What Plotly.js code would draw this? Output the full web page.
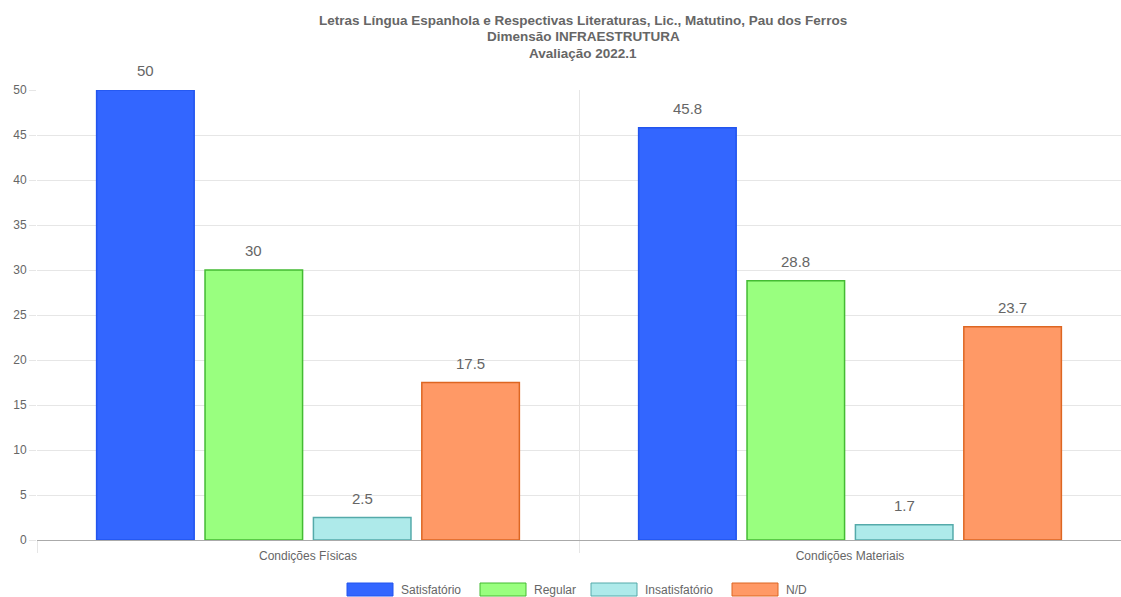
<!DOCTYPE html>
<html>
<head>
<meta charset="utf-8">
<script src="https://cdn.plot.ly/plotly-3.0.1.min.js"></script>
<style>html,body{margin:0;padding:0;background:#fff;}#chart{width:1121px;height:597px;}</style>
</head>
<body>
<div id="chart"></div>
<script>
// ---- data ----
const categories = ["Condições Físicas", "Condições Materiais"];
const seriesNames = ["Satisfatório", "Regular", "Insatisfatório", "N/D"];
const satisfatorio = [50, 45.8];
const regular = [30, 28.8];
const insatisfatorio = [2.5, 1.7];
const nd = [17.5, 23.7];
const yTicks = [0, 5, 10, 15, 20, 25, 30, 35, 40, 45, 50];
const titleLines = ["Letras Língua Espanhola e Respectivas Literaturas, Lic., Matutino, Pau dos Ferros", "Dimensão INFRAESTRUTURA", "Avaliação 2022.1"];

// ---- styles ----
const fills = ["#3366ff", "#99ff7f", "#aeeaea", "#ff9966"];
const borders = ["#2255ee", "#44bb33", "#55aaaa", "#dd6622"];
const FONT = "Liberation Sans, Arial, Helvetica, sans-serif";
const W = 1121, H = 597;
const M = {l: 37, r: 0, t: 90, b: 57};
const plotW = W - M.l - M.r, plotH = H - M.t - M.b;
const BARGAP = 0.2, GROUPGAP = 0.1;
const px2x = px => (px - M.l) / plotW;
const px2y = py => (H - M.b - py) / plotH;

const seriesValues = [satisfatorio, regular, insatisfatorio, nd];
const traces = seriesValues.map((vals, i) => ({
  type: "bar",
  name: seriesNames[i],
  x: categories,
  y: vals,
  marker: {color: fills[i], line: {color: borders[i], width: 1.5}},
  hoverinfo: "x+y+name"
}));

// value labels above bars
const step = (plotW / categories.length) * (1 - BARGAP) / seriesValues.length;
const annotations = [];
seriesValues.forEach((vals, i) => {
  vals.forEach((v, j) => {
    annotations.push({
      x: categories[j], y: v, xref: "x", yref: "y",
      text: String(v), showarrow: false,
      xshift: (i - (seriesValues.length - 1) / 2) * step,
      yanchor: "bottom", yshift: 9,
      font: {family: FONT, size: 15, color: "#666"}
    });
  });
});

// title lines
titleLines.forEach((t, k) => {
  annotations.push({
    xref: "paper", yref: "paper", x: px2x(583),
    y: px2y(20 + k * 16.5), xanchor: "center", yanchor: "middle",
    showarrow: false, text: "<b>" + t + "</b>",
    font: {family: FONT, size: 13.5, color: "#666"}
  });
});

// custom legend
const legendBoxX = [347, 480, 591, 732];
const shapes = [];
seriesNames.forEach((n, i) => {
  shapes.push({
    type: "rect", xref: "paper", yref: "paper",
    x0: px2x(legendBoxX[i]), x1: px2x(legendBoxX[i] + 46),
    y0: px2y(596), y1: px2y(583),
    fillcolor: fills[i], line: {color: borders[i], width: 1}
  });
  annotations.push({
    xref: "paper", yref: "paper",
    x: px2x(legendBoxX[i] + 52), y: px2y(589.5),
    xanchor: "left", yanchor: "middle", showarrow: false,
    text: n, font: {family: FONT, size: 12, color: "#666"}
  });
});

const layout = {
  width: W, height: H,
  margin: M,
  paper_bgcolor: "#fff", plot_bgcolor: "#fff",
  font: {family: FONT, size: 12, color: "#666"},
  barmode: "group", bargap: BARGAP, bargroupgap: GROUPGAP,
  showlegend: false,
  xaxis: {
    type: "category", tickson: "boundaries",
    showgrid: true, gridcolor: "#e6e6e6", gridwidth: 1,
    ticks: "outside", ticklen: 12, tickcolor: "#e6e6e6",
    showline: true, linecolor: "#aaa", linewidth: 1,
    tickfont: {family: FONT, size: 12, color: "#666"},
    ticklabelstandoff: 5,
    fixedrange: true
  },
  yaxis: {
    range: [0, 50], tickvals: yTicks,
    showgrid: true, gridcolor: "#e6e6e6", gridwidth: 1,
    ticks: "outside", ticklen: 7, tickcolor: "#e6e6e6",
    zeroline: true, zerolinecolor: "#aaa", zerolinewidth: 1,
    showline: false,
    tickfont: {family: FONT, size: 12, color: "#666"},
    fixedrange: true
  },
  shapes: shapes,
  annotations: annotations
};

Plotly.newPlot("chart", traces, layout, {displayModeBar: false, responsive: false});
</script>
</body>
</html>
